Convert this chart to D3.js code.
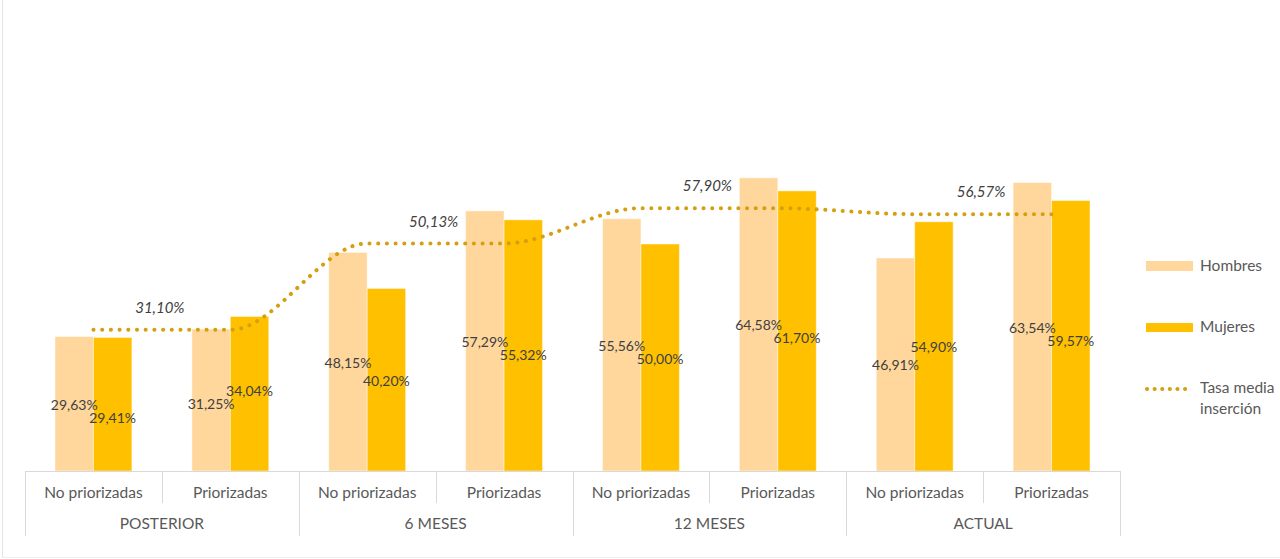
<!DOCTYPE html>
<html>
<head>
<meta charset="utf-8">
<script src="https://cdn.jsdelivr.net/npm/d3@7"></script>
<style>
  html, body { margin: 0; padding: 0; background: #fff; }
  svg { display: block; font-family: Lato, "Noto Sans", sans-serif; }
</style>
</head>
<body>
<svg id="chart" width="1280" height="559"></svg>
<script>
// Chart data
const groups = ["POSTERIOR", "6 MESES", "12 MESES", "ACTUAL"];
const subcats = ["No priorizadas", "Priorizadas"];
const hombres = [29.63, 31.25, 48.15, 57.29, 55.56, 64.58, 46.91, 63.54];
const mujeres = [29.41, 34.04, 40.20, 55.32, 50.00, 61.70, 54.90, 59.57];
const tasaMedia = [31.10, 31.10, 50.13, 50.13, 57.90, 57.90, 56.57, 56.57];
const seriesNames = ["Hombres", "Mujeres", "Tasa media inserción"];

const colors = { hombres: "#FFD79C", mujeres: "#FFC000", line: "#D4A010" };
const fmt = v => v.toFixed(2).replace(".", ",") + "%";

const svg = d3.select("#chart");
const W = 1280, H = 559;
const plot = { left: 25, right: 1120, top: 17, bottom: 471 };

// Frame edges
svg.append("line").attr("x1", 2.5).attr("x2", 2.5).attr("y1", 0).attr("y2", 557)
  .attr("stroke", "#e3e3e3").attr("stroke-width", 1);
svg.append("line").attr("x1", 2).attr("x2", W).attr("y1", 557.5).attr("y2", 557.5)
  .attr("stroke", "#eeeeee").attr("stroke-width", 1);

// Flat list of categories (group x subcategory)
const cats = [];
groups.forEach((g, gi) => subcats.forEach((s, si) => cats.push({ g, s, gi, si, i: gi * subcats.length + si })));

const x = d3.scaleBand().domain(cats.map(c => c.i)).range([plot.left, plot.right]).paddingInner(0).paddingOuter(0);
const xs = d3.scaleBand().domain(["h", "m"]).range([0, x.bandwidth()]).paddingInner(0).paddingOuter(0.78);
const y = d3.scaleLinear().domain([0, 100]).range([plot.bottom, plot.top]);

// Bars
const barData = cats.map(c => ({ ...c, h: hombres[c.i], m: mujeres[c.i] }));
const gBars = svg.append("g");
barData.forEach(d => {
  [["h", d.h, colors.hombres], ["m", d.m, colors.mujeres]].forEach(([k, v, col]) => {
    gBars.append("rect")
      .attr("x", x(d.i) + xs(k))
      .attr("y", y(v))
      .attr("width", xs.bandwidth())
      .attr("height", y(0) - y(v))
      .attr("fill", col)
      .attr("stroke", "#ffffff").attr("stroke-opacity", 0.45).attr("stroke-width", 1);
  });
});

// Bar value labels, centred in each bar and pushed apart when they collide
const gLab = svg.append("g").attr("font-size", 14).attr("fill", "#404040").attr("text-anchor", "middle");
const minGap = 13;
barData.forEach(d => {
  let yh = (y(d.h) + y(0)) / 2 + 1;
  let ym = (y(d.m) + y(0)) / 2 + 1;
  if (d.m <= d.h) {
    ym = Math.max(ym, yh + minGap);
  } else if (yh - ym < minGap) {
    const mid = (yh + ym) / 2;
    yh = mid + minGap / 2;
    ym = mid - minGap / 2;
  }
  gLab.append("text").attr("x", x(d.i) + xs("h") + xs.bandwidth() / 2).attr("y", yh)
    .attr("dy", "0.35em").text(fmt(d.h));
  gLab.append("text").attr("x", x(d.i) + xs("m") + xs.bandwidth() / 2).attr("y", ym)
    .attr("dy", "0.35em").text(fmt(d.m));
});

// Average rate line (dotted, smoothed)
const line = d3.line()
  .x((v, i) => x(i) + x.bandwidth() / 2)
  .y(v => y(v))
  .curve(d3.curveMonotoneX);
svg.append("path")
  .attr("d", line(tasaMedia))
  .attr("fill", "none")
  .attr("stroke", colors.line)
  .attr("stroke-width", 4)
  .attr("stroke-linecap", "round")
  .attr("stroke-dasharray", "0.1 8.6");

// One italic label per group, above the line at the group centre
const gLine = svg.append("g").attr("font-size", 15).attr("font-style", "italic")
  .attr("fill", "#404040").attr("text-anchor", "middle");
groups.forEach((g, gi) => {
  const i = gi * subcats.length;
  const v = tasaMedia[i + 1];
  gLine.append("text")
    .attr("x", x(i + 1) - 2)
    .attr("y", y(v) - 22)
    .attr("dy", "0.35em")
    .text(fmt(v));
});

// Category axis: baseline, separators and two rows of labels
const axis = svg.append("g").attr("stroke", "#d9d9d9").attr("stroke-width", 1);
axis.append("line").attr("x1", plot.left).attr("x2", plot.right)
  .attr("y1", plot.bottom + 0.5).attr("y2", plot.bottom + 0.5);
cats.forEach(c => {
  const xb = Math.round(x(c.i)) + 0.5;
  axis.append("line").attr("x1", xb).attr("x2", xb)
    .attr("y1", plot.bottom).attr("y2", c.si === 0 ? 536 : 503);
});
axis.append("line").attr("x1", Math.round(plot.right) + 0.5).attr("x2", Math.round(plot.right) + 0.5)
  .attr("y1", plot.bottom).attr("y2", 536);

const axText = svg.append("g").attr("font-size", 15.5).attr("fill", "#595959").attr("text-anchor", "middle");
cats.forEach(c => {
  axText.append("text").attr("x", x(c.i) + x.bandwidth() / 2).attr("y", 493)
    .attr("dy", "0.35em").text(c.s);
});
groups.forEach((g, gi) => {
  const i = gi * subcats.length;
  axText.append("text").attr("x", x(i + 1)).attr("y", 524)
    .attr("dy", "0.35em").text(g);
});

// Legend
const leg = svg.append("g").attr("font-size", 15.5).attr("fill", "#595959");
leg.append("rect").attr("x", 1146).attr("y", 261).attr("width", 47).attr("height", 10).attr("fill", colors.hombres);
leg.append("text").attr("x", 1200).attr("y", 266).attr("dy", "0.35em").text(seriesNames[0]);
leg.append("rect").attr("x", 1146).attr("y", 323).attr("width", 47).attr("height", 9).attr("fill", colors.mujeres);
leg.append("text").attr("x", 1200).attr("y", 327).attr("dy", "0.35em").text(seriesNames[1]);
leg.append("line").attr("x1", 1147).attr("x2", 1192).attr("y1", 389).attr("y2", 389)
  .attr("stroke", colors.line).attr("stroke-width", 4)
  .attr("stroke-linecap", "round").attr("stroke-dasharray", "0.1 7.5");
const words = seriesNames[2].split(" ");
leg.append("text").attr("x", 1200).attr("y", 388).attr("dy", "0.35em").text(words.slice(0, 2).join(" "));
leg.append("text").attr("x", 1200).attr("y", 409).attr("dy", "0.35em").text(words.slice(2).join(" "));
</script>
</body>
</html>
